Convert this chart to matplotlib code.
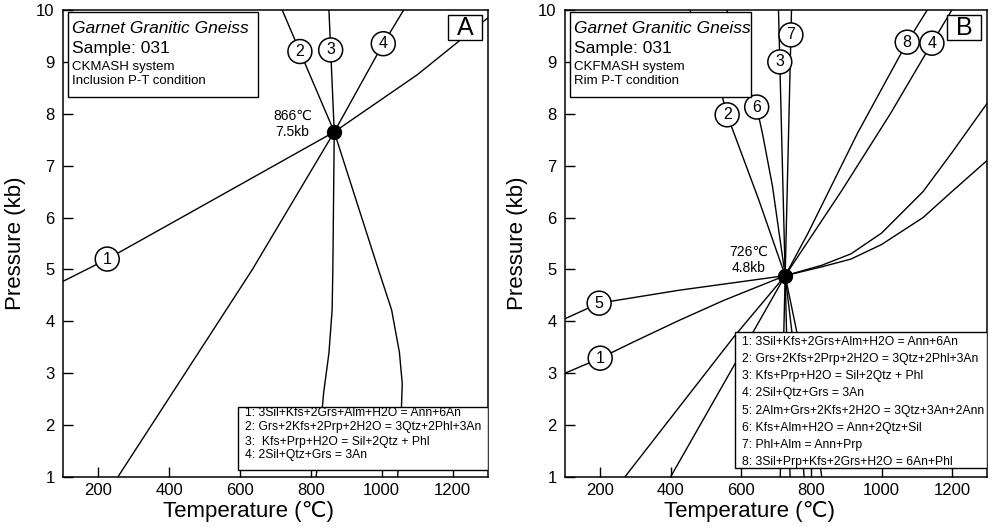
#!/usr/bin/env python3
"""
P-T grid for garnet granitic gneiss, sample 031
Panel A: inclusion P-T condition (CKMASH), panel B: rim P-T condition (CKFMASH)
"""

import numpy as np
import matplotlib
matplotlib.use('Agg')
import matplotlib.pyplot as plt
from matplotlib.patches import Rectangle

plt.rcParams['font.family'] = ['Liberation Sans', 'DejaVu Sans']

# ---- panel A: reaction curves (T in C, P in kb) ----
a_point = (866, 7.65)
a1_t = [100, 225, 500, 866, 1100, 1300]
a1_p = [4.77, 5.2, 6.25, 7.65, 8.75, 9.85]
a2_t = [719, 866, 991, 1028, 1050, 1058, 1055, 1045]
a2_p = [10.0, 7.65, 4.99, 4.22, 3.4, 2.8, 2.2, 1.0]
a3_t = [851, 866, 862, 860, 851, 836, 815]
a3_p = [10.0, 7.65, 4.99, 4.22, 3.39, 2.62, 1.0]
a4_t = [255, 634, 866, 1000, 1062]
a4_p = [1.0, 4.99, 7.65, 9.3, 10.0]

# ---- panel B ----
b_point = (726, 4.88)
b1_t = [100, 200, 300, 425, 550, 726, 830, 913, 1000, 1118, 1200, 1300]
b1_p = [3.0, 3.29, 3.62, 4.02, 4.4, 4.88, 5.08, 5.3, 5.7, 6.5, 7.25, 8.2]
b2_t = [455, 546, 561, 651, 726, 758, 800, 830]
b2_p = [10.0, 8.36, 7.98, 6.34, 4.88, 3.83, 2.5, 1.0]
b3_t = [707, 726, 740]
b3_p = [10.0, 4.88, 1.0]
b4_t = [270, 580, 726, 885, 1025, 1138, 1200]
b4_p = [1.0, 3.7, 4.88, 6.5, 8.0, 9.3, 10.0]
b5_t = [100, 197, 425, 726, 830, 913, 1000, 1118, 1200, 1300]
b5_p = [4.05, 4.35, 4.6, 4.88, 5.05, 5.2, 5.48, 6.0, 6.5, 7.1]
b6_t = [560, 622, 645, 662, 690, 726, 745, 780]
b6_p = [10.0, 8.5, 8.13, 7.6, 6.6, 4.88, 3.8, 1.0]
b7_t = [744, 726, 712]
b7_p = [10.0, 4.88, 1.0]
b8_t = [400, 726, 791, 932, 1073, 1130]
b8_p = [1.0, 4.88, 5.7, 7.63, 9.38, 10.0]

# where the circled number sits on each curve: (number, axis, value)
a_labels = [('1', 'T', 225), ('2', 'P', 9.2), ('3', 'P', 9.23), ('4', 'P', 9.35)]
b_labels = [('1', 'T', 200), ('2', 'P', 7.98), ('3', 'P', 9.0), ('4', 'P', 9.36),
            ('5', 'T', 197), ('6', 'P', 8.13), ('7', 'P', 9.52), ('8', 'P', 9.38)]

a_legend = ['1: 3Sil+Kfs+2Grs+Alm+H2O = Ann+6An',
            '2: Grs+2Kfs+2Prp+2H2O = 3Qtz+2Phl+3An',
            '3:  Kfs+Prp+H2O = Sil+2Qtz + Phl',
            '4: 2Sil+Qtz+Grs = 3An']
b_legend = ['1: 3Sil+Kfs+2Grs+Alm+H2O = Ann+6An',
            '2: Grs+2Kfs+2Prp+2H2O = 3Qtz+2Phl+3An',
            '3: Kfs+Prp+H2O = Sil+2Qtz + Phl',
            '4: 2Sil+Qtz+Grs = 3An',
            '5: 2Alm+Grs+2Kfs+2H2O = 3Qtz+3An+2Ann',
            '6: Kfs+Alm+H2O = Ann+2Qtz+Sil',
            '7: Phl+Alm = Ann+Prp',
            '8: 3Sil+Prp+Kfs+2Grs+H2O = 6An+Phl']

x_ticks = [200, 400, 600, 800, 1000, 1200]
y_ticks = list(range(1, 11))


def point_on(t, p, key, val):
    """Return (T, P) on a polyline where T (or P) equals val"""
    src, dst = (t, p) if key == 'T' else (p, t)
    for i in range(len(src) - 1):
        a, b = src[i], src[i + 1]
        if a != b and min(a, b) <= val <= max(a, b):
            other = dst[i] + (val - a) / (b - a) * (dst[i + 1] - dst[i])
            return (val, other) if key == 'T' else (other, val)
    return t[0], p[0]


def draw_panel(ax, curves, labels, point, point_text, point_xy, info, letter, legend, legend_box, legend_y):
    for t, p in curves.values():
        ax.plot(t, p, color='black', linewidth=1.0, zorder=2, solid_joinstyle='round')

    for num, key, val in labels:
        t, p = curves[num]
        x, y = point_on(t, p, key, val)
        ax.text(x, y, num, ha='center', va='center', fontsize=11.5, zorder=4,
                bbox=dict(boxstyle='circle,pad=0.28', facecolor='white', edgecolor='black', linewidth=1.1))

    ax.plot(*point, 'o', color='black', markersize=10, zorder=5)
    ax.text(*point_xy, point_text, ha='center', va='center', fontsize=10, zorder=5, linespacing=1.15)

    # info box, top left
    x0, y0, x1 = info['box']
    ax.add_patch(Rectangle((x0, y0), x1 - x0, 0.995 - y0, transform=ax.transAxes,
                           facecolor='white', edgecolor='black', linewidth=1.0, zorder=6))
    tx = x0 + 0.01
    ax.text(tx, 0.960, 'Garnet Granitic Gneiss', transform=ax.transAxes, style='italic',
            fontsize=12.5, va='center', zorder=7)
    ax.text(tx, 0.918, 'Sample: 031', transform=ax.transAxes, fontsize=12.5, va='center', zorder=7)
    ax.text(tx, 0.878, info['system'], transform=ax.transAxes, fontsize=9.5, va='center', zorder=7)
    ax.text(tx, 0.848, info['cond'], transform=ax.transAxes, fontsize=9.5, va='center', zorder=7)

    # panel letter
    ax.add_patch(Rectangle((0.906, 0.935), 0.08, 0.055, transform=ax.transAxes,
                           facecolor='white', edgecolor='black', linewidth=1.0, zorder=6))
    ax.text(0.946, 0.962, letter, transform=ax.transAxes, ha='center', va='center',
            fontsize=18, zorder=7)

    # reaction list, bottom right
    lx0, ly0, ly1 = legend_box
    ax.add_patch(Rectangle((lx0, ly0), 1.0 - lx0, ly1 - ly0, transform=ax.transAxes,
                           facecolor='white', edgecolor='black', linewidth=1.0, zorder=6))
    for line, y in zip(legend, legend_y):
        ax.text(lx0 + 0.016, y, line, transform=ax.transAxes, fontsize=8.7, va='center',
                zorder=7, clip_on=True)

    ax.set_xlim(100, 1300)
    ax.set_ylim(1, 10)
    ax.set_xticks(x_ticks)
    ax.set_yticks(y_ticks)
    ax.tick_params(direction='in', length=7, width=1.0, labelsize=12)
    ax.tick_params(axis='x', pad=4.5)
    ax.tick_params(axis='y', pad=6)
    for s in ax.spines.values():
        s.set_linewidth(1.1)

    ax.set_xlabel('Temperature (\u2103)', fontsize=16, va='baseline')
    ax.set_ylabel('Pressure (kb)', fontsize=16)
    ax.xaxis.set_label_coords(0.436, -0.086)
    ax.yaxis.set_label_coords(-0.088, 0.5)


def main():
    fig = plt.figure(figsize=(9.93, 5.29), dpi=100, facecolor='white')
    ax_a = fig.add_axes([0.0634, 0.0983, 0.428, 0.8828])
    ax_b = fig.add_axes([0.569, 0.0983, 0.425, 0.8828])

    curves_a = {'1': (a1_t, a1_p), '2': (a2_t, a2_p), '3': (a3_t, a3_p), '4': (a4_t, a4_p)}
    curves_b = {'1': (b1_t, b1_p), '2': (b2_t, b2_p), '3': (b3_t, b3_p), '4': (b4_t, b4_p),
                '5': (b5_t, b5_p), '6': (b6_t, b6_p), '7': (b7_t, b7_p), '8': (b8_t, b8_p)}

    draw_panel(ax_a, curves_a, a_labels, a_point, '866\u2103\n7.5kb', (748, 7.80),
               {'box': (0.012, 0.814, 0.459), 'system': 'CKMASH system',
                'cond': 'Inclusion P-T condition'},
               'A', a_legend, (0.412, 0.015, 0.150), [0.137, 0.107, 0.075, 0.047])

    draw_panel(ax_b, curves_b, b_labels, b_point, '726\u2103\n4.8kb', (622, 5.18),
               {'box': (0.012, 0.814, 0.44), 'system': 'CKFMASH system',
                'cond': 'Rim P-T condition'},
               'B', b_legend, (0.403, 0.019, 0.310), list(np.linspace(0.289, 0.032, 8)))

    fig.savefig('out.png', dpi=100, facecolor='white')
    plt.close(fig)


if __name__ == "__main__":
    main()
